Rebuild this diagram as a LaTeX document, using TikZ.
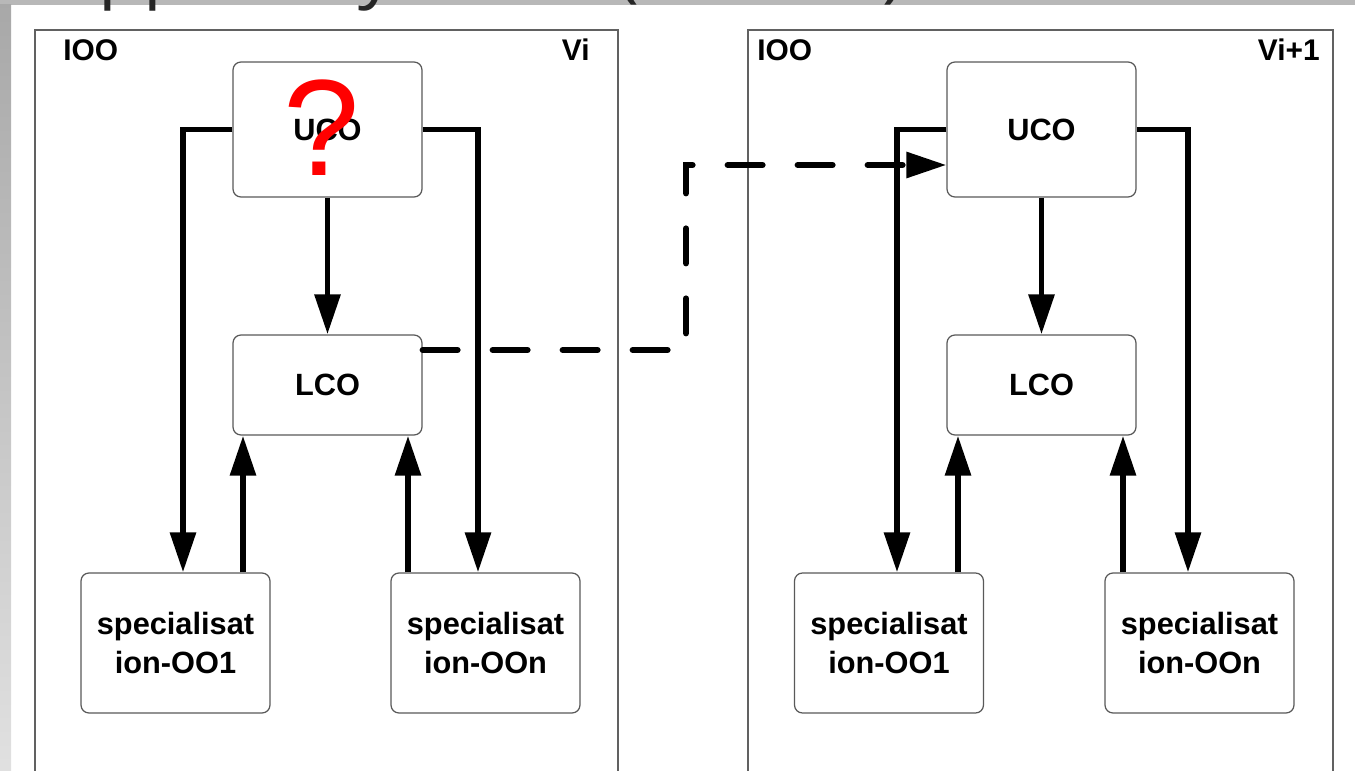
\documentclass[tikz,border=0pt]{standalone}
\usepackage{fontspec}
\setmainfont{Liberation Sans}
\newfontfamily\titlefont{Open Sans}
\usetikzlibrary{arrows.meta}

\tikzstyle{block} = [rectangle, draw=black!65, line width=0.7pt, fill=white, align=center, text centered, minimum width=3.78cm, rounded corners=0.16cm, font=\bfseries\fontsize{17.5}{22.5}\selectfont]
\tikzstyle{arrow} = [draw, line width=3.4pt, -{Triangle[length=0.8cm, width=0.5cm]}]
\tikzstyle{dasharrow} = [arrow, dash pattern=on 0.7cm off 0.7cm, line cap=round]
\tikzstyle{frame} = [draw=black!62, line width=0.9pt]
\tikzstyle{tag} = [inner sep=0pt, font=\bfseries\fontsize{17}{20}\selectfont]
\tikzstyle{cut} = [anchor=base west, inner sep=0pt, text=black!85, font=\titlefont\fontsize{42}{42}\selectfont]

\begin{document}
\begin{tikzpicture}
    \useasboundingbox (0,0) rectangle (27.1,-15.42);

    % slide background
    \fill[black!28] (0,0) rectangle (27.1,-0.1);
    \shade[top color=black!34, bottom color=black!12] (0,-0.1) rectangle (0.22,-15.42);

    % title, cut at the top
    \node[cut] (tp) at (1.96,0.12) {pp};
    \node[cut] (ty) at (7.16,0.12) {y};
    \node[cut] (tl) at (12.34,0.12) {(};
    \node[cut] (tr) at (17.64,0.12) {)};

    % frames
    \draw[frame] (0.70,-0.60) rectangle (12.36,-16);
    \draw[frame] (14.96,-0.60) rectangle (26.66,-16);
    \node[tag, anchor=west] (ioo1) at (1.26,-1.0) {IOO};
    \node[tag, anchor=east] (vi) at (11.8,-1.0) {Vi};
    \node[tag, anchor=west] (ioo2) at (15.14,-1.0) {IOO};
    \node[tag, anchor=east] (vnext) at (26.4,-1.0) {Vi+1};

    % version i
    \node[block, minimum height=2.7cm] (uco1) at (6.55,-2.59) {UCO};
    \node[block, minimum height=2.0cm, below of=uco1, node distance=5.11cm] (lco1) {LCO};
    \node[block, minimum height=2.8cm, below of=lco1, xshift=-3.04cm, node distance=5.16cm] (spec1a) {specialisat\\ion-OO1};
    \node[block, minimum height=2.8cm, below of=lco1, xshift=3.16cm, node distance=5.16cm] (spec1n) {specialisat\\ion-OOn};

    % version i+1
    \node[block, minimum height=2.7cm] (uco2) at (20.83,-2.59) {UCO};
    \node[block, minimum height=2.0cm, below of=uco2, node distance=5.11cm] (lco2) {LCO};
    \node[block, minimum height=2.8cm, below of=lco2, xshift=-3.05cm, node distance=5.16cm] (spec2a) {specialisat\\ion-OO1};
    \node[block, minimum height=2.8cm, below of=lco2, xshift=3.16cm, node distance=5.16cm] (spec2n) {specialisat\\ion-OOn};

    % lines
    \draw [arrow] (uco1.west) -| ([xshift=0.15cm]spec1a.north);
    \draw [arrow] (uco1.east) -| ([xshift=-0.15cm]spec1n.north);
    \draw [arrow] (uco1.south) to (lco1.north);
    \draw [arrow] ([xshift=1.35cm]spec1a.north) to ([xshift=1.35cm]spec1a.north |- lco1.south);
    \draw [arrow] ([xshift=-1.55cm]spec1n.north) to ([xshift=-1.55cm]spec1n.north |- lco1.south);

    \draw [arrow] (uco2.west) -| ([xshift=0.16cm]spec2a.north);
    \draw [arrow] (uco2.east) -| ([xshift=-0.23cm]spec2n.north);
    \draw [arrow] (uco2.south) to (lco2.north);
    \draw [arrow] ([xshift=1.38cm]spec2a.north) to ([xshift=1.38cm]spec2a.north |- lco2.south);
    \draw [arrow] ([xshift=-1.53cm]spec2n.north) to ([xshift=-1.53cm]spec2n.north |- lco2.south);

    % from version i to version i+1
    \coordinate (bend) at (13.72,-3.3);
    \draw [dasharrow] ([yshift=0.7cm]lco1.east) -| (bend) -- ([yshift=-0.71cm]uco2.west);

    % mark
    \node[text=red, inner sep=0pt, font=\fontsize{78}{80}\selectfont] (qmark) at (6.44,-2.56) {?};
\end{tikzpicture}
\end{document}
